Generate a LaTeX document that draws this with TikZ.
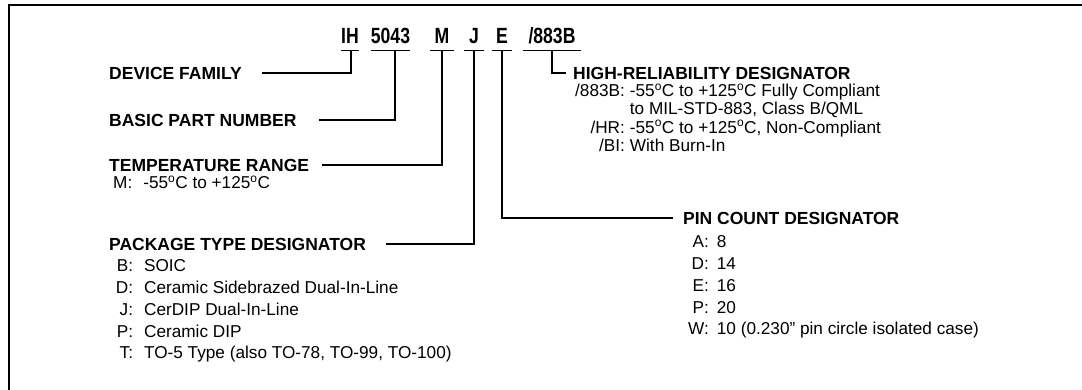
\documentclass[tikz,border=0pt]{standalone}
\usepackage{fontspec}
\setmainfont{Liberation Sans}
\newfontfamily\codefont[FakeStretch=0.8]{Liberation Sans}
\usetikzlibrary{positioning}
\newcommand{\dg}{\textsuperscript{o}}

\begin{document}
\begin{tikzpicture}[
  x=1pt, y=-1pt,
  code/.style={font=\codefont\bfseries\fontsize{22}{26}\selectfont, anchor=base, inner xsep=0pt, inner ysep=6pt, text depth=0pt},
  head/.style={font=\bfseries\fontsize{17.5}{21}\selectfont, anchor=west, inner sep=0pt},
  items/.style={font=\fontsize{17.2}{21.7}\selectfont, anchor=base west, inner sep=0pt},
  lead/.style={draw, line width=1.1pt}
]
\useasboundingbox (0,0) rectangle (1082,390);
\draw[line width=1.8pt] (9,390) |- (1082,5);

\node[code, minimum width=18pt] (ih) at (350,44) {IH};
\node[code, minimum width=37pt] (num) at (390.5,44) {5043};
\node[code, minimum width=23pt] (temp) at (442,44) {M};
\node[code, minimum width=20pt] (pkg) at (474,44) {J};
\node[code, minimum width=20pt] (pins) at (502,44) {E};
\node[code, minimum width=57pt] (rel) at (552,44) {/883B};
\foreach \n in {ih,num,temp,pkg,pins,rel}
  \draw[lead] (\n.south west) -- (\n.south east);

\node[head] (famhead) at (109,73) {DEVICE FAMILY};
\node[head] (parthead) at (109,120) {BASIC PART NUMBER};
\node[head] (temphead) at (109,165) {TEMPERATURE RANGE};
\node[head] (pkghead) at (109,244) {PACKAGE TYPE DESIGNATOR};
\node[head] (pinhead) at (683,218) {PIN COUNT DESIGNATOR};
\node[head] (relhead) at (573,73) {HIGH-RELIABILITY DESIGNATOR};

\node[items, font=\fontsize{17.2}{17.2}\selectfont] (templist) at (113,188.5) {M:\hspace{11pt}-55\dg C to +125\dg C};
\node[items] (pkglist) at (115.7,272) {\begin{tabular}[t]{@{}r@{\hspace{11pt}}l@{}}
  B: & SOIC\\
  D: & Ceramic Sidebrazed Dual-In-Line\\
  J: & CerDIP Dual-In-Line\\
  P: & Ceramic DIP\\
  T: & TO-5 Type (also TO-78, TO-99, TO-100)
\end{tabular}};
\node[items] (pinlist) at (688,248) {\begin{tabular}[t]{@{}r@{\hspace{8pt}}l@{}}
  A: & 8\\
  D: & 14\\
  E: & 16\\
  P: & 20\\
  W: & 10 (0.230” pin circle isolated case)
\end{tabular}};
\node[items, font=\fontsize{17.2}{18}\selectfont] (rellist) at (575,97) {\begin{tabular}[t]{@{}r@{\hspace{5pt}}l@{}}
  /883B: & -55\dg C to +125\dg C Fully Compliant\\
         & to MIL-STD-883, Class B/QML\\
  /HR: & -55\dg C to +125\dg C, Non-Compliant\\
  /BI: & With Burn-In
\end{tabular}};

\draw[lead, shorten >=20pt] ([xshift=1pt]ih.south) |- (famhead.east);
\draw[lead, shorten >=22pt] ([xshift=4.5pt]num.south) |- (parthead.east);
\draw[lead, shorten >=13pt] (temp.south) |- (temphead.east);
\draw[lead, shorten >=20pt] (pkg.south) |- (pkghead.east);
\draw[lead, shorten >=10pt] (pins.south) |- (pinhead.west);
\draw[lead, shorten >=7pt] (rel.south) |- (relhead.west);
\end{tikzpicture}
\end{document}
